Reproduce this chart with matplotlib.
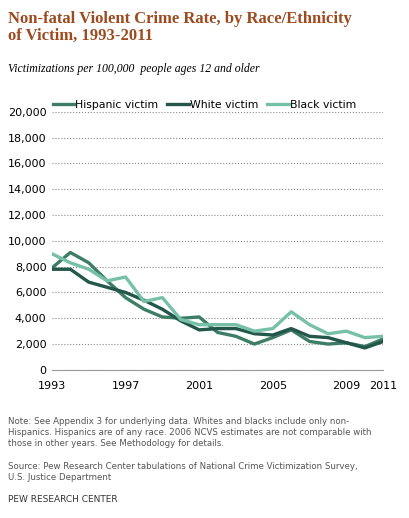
import matplotlib
matplotlib.use('Agg')
import matplotlib.pyplot as plt

years = list(range(1993, 2012))
hispanic = [7900, 9100, 8300, 6900, 5600, 4700, 4100, 4000, 4100, 2900, 2600,
            2000, 2500, 3100, 2200, 2000, 2100, 1800, 2400]
white = [7800, 7800, 6800, 6400, 6000, 5400, 4700, 3800, 3100, 3200, 3200,
         2800, 2700, 3200, 2600, 2500, 2100, 1700, 2200]
black = [9000, 8300, 7800, 6900, 7200, 5300, 5600, 3900, 3500, 3500, 3500,
         3000, 3200, 4500, 3500, 2800, 3000, 2500, 2600]
xticks = [1993, 1997, 2001, 2005, 2009, 2011]

fig = plt.figure(figsize=(4.09, 5.18), dpi=100)
ax = fig.add_axes([0.127, 0.286, 0.81, 0.498])

ax.plot(years, hispanic, color='#3d7d66', lw=2.4, label='Hispanic victim')
ax.plot(years, white, color='#22574a', lw=2.4, label='White victim')
ax.plot(years, black, color='#77c0a8', lw=2.4, label='Black victim')

ax.set_xlim(1993, 2011)
ax.set_ylim(0, 20000)
ax.set_yticks(range(0, 20001, 2000))
ax.set_yticklabels([f'{v:,}' for v in range(0, 20001, 2000)])
ax.set_xticks(xticks)
ax.tick_params(labelsize=8, length=0, pad=4)
ax.tick_params(axis='x', pad=8)
for s in ['top', 'right', 'left']:
    ax.spines[s].set_visible(False)
ax.spines['bottom'].set_color('#999999')
ax.yaxis.grid(True, linestyle=':', color='#888888', lw=0.8)
ax.set_axisbelow(True)
ax.legend(loc='lower center', bbox_to_anchor=(0.46, 0.99), ncol=3, frameon=False,
          fontsize=7.8, handlelength=2.0, handletextpad=0.1, columnspacing=0.8,
          borderaxespad=0)

fig.text(0.02, 0.978, 'Non-fatal Violent Crime Rate, by Race/Ethnicity\nof Victim, 1993-2011',
         fontsize=12, fontweight='bold', family='Liberation Serif', color='#9c4a1e',
         va='top', linespacing=1.05)
fig.text(0.02, 0.878, 'Victimizations per 100,000  people ages 12 and older',
         fontsize=8.5, style='italic', family='Liberation Serif', va='top')
fig.text(0.02, 0.195, 'Note: See Appendix 3 for underlying data. Whites and blacks include only non-\n'
         'Hispanics. Hispanics are of any race. 2006 NCVS estimates are not comparable with\n'
         'those in other years. See Methodology for details.',
         fontsize=6.2, color='#555555', va='top', linespacing=1.3)
fig.text(0.02, 0.108, 'Source: Pew Research Center tabulations of National Crime Victimization Survey,\n'
         'U.S. Justice Department', fontsize=6.2, color='#555555', va='top', linespacing=1.3)
fig.text(0.02, 0.045, 'PEW RESEARCH CENTER', fontsize=6.5, color='#333333', va='top')

fig.savefig('out.png', dpi=100)
